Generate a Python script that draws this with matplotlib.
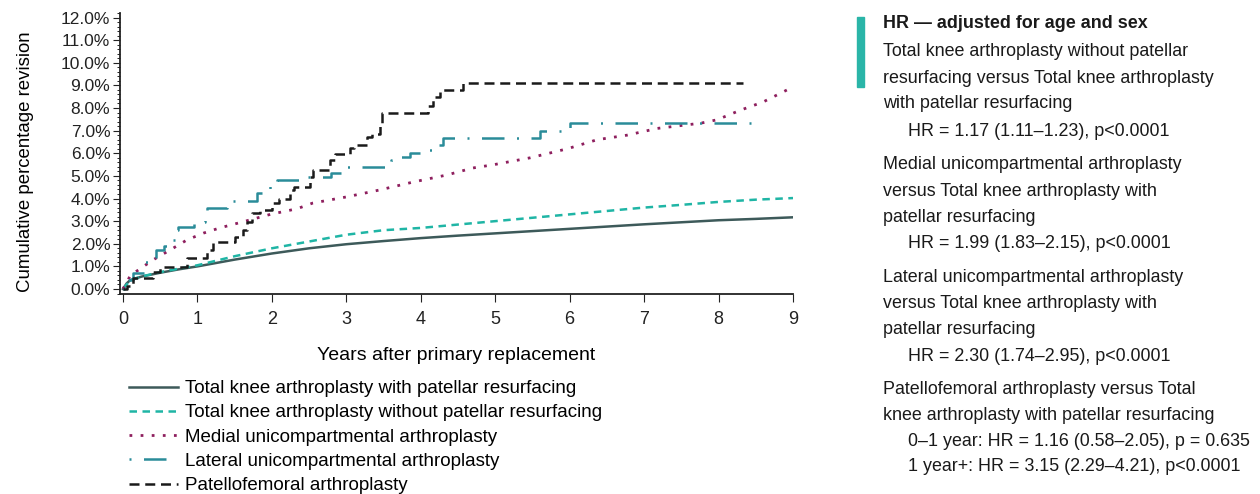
import matplotlib.pyplot as plt
from matplotlib.ticker import MultipleLocator, FuncFormatter

plt.rcParams['font.family'] = ['Liberation Sans', 'DejaVu Sans']

# 数据
tka_with_x = [0, 0.05, 0.1, 0.25, 0.5, 0.75, 1, 1.5, 2, 2.5, 3, 3.5, 4, 4.5, 5, 5.5, 6, 6.5, 7, 7.5, 8, 8.5, 9]
tka_with_y = [0, 0.25, 0.4, 0.55, 0.72, 0.87, 1.0, 1.3, 1.57, 1.8, 1.98, 2.12, 2.25, 2.36, 2.46, 2.56, 2.66, 2.76, 2.86, 2.95, 3.04, 3.1, 3.17]

tka_without_x = [0, 0.1, 0.25, 0.5, 1, 1.5, 2, 2.5, 3, 3.5, 4, 4.5, 5, 5.5, 6, 6.5, 7, 7.5, 8, 8.5, 9]
tka_without_y = [0, 0.4, 0.55, 0.75, 1.05, 1.45, 1.8, 2.1, 2.4, 2.6, 2.7, 2.85, 3.0, 3.15, 3.3, 3.45, 3.6, 3.72, 3.85, 3.95, 4.02]

medial_x = [0, 0.1, 0.4, 0.63, 0.86, 1.08, 1.3, 1.61, 1.98, 2.34, 2.55, 3.0, 3.45, 3.9, 4.35, 4.7,
            4.97, 5.47, 5.97, 6.37, 6.77, 7.18, 7.76, 7.98, 8.29, 8.6, 8.92, 9.0]
medial_y = [0, 0.6, 1.28, 1.72, 2.17, 2.47, 2.7, 2.97, 3.3, 3.55, 3.8, 4.07, 4.38, 4.73, 5.04, 5.35,
            5.49, 5.8, 6.2, 6.6, 6.8, 7.1, 7.33, 7.48, 7.9, 8.27, 8.8, 8.9]

lateral_x = [0, 0.05, 0.13, 0.3, 0.45, 0.55, 0.63, 0.7, 0.74, 0.95, 1.1, 1.13, 1.4, 1.48, 1.8, 1.98, 2.07,
             2.28, 2.45, 2.8, 3.0, 3.6, 3.68, 3.85, 4.03, 4.22, 4.3, 5.6, 6.0, 8.6]
lateral_y = [0, 0.4, 0.7, 1.2, 1.72, 1.9, 2.17, 2.6, 2.75, 2.97, 3.35, 3.58, 3.63, 3.9, 4.25, 4.6, 4.8,
             4.82, 4.96, 5.13, 5.4, 5.7, 5.85, 6.0, 6.15, 6.37, 6.68, 7.0, 7.35, 7.35]

patello_x = [0, 0.05, 0.13, 0.4, 0.5, 0.86, 1.13, 1.21, 1.5, 1.61, 1.67, 1.73, 1.84, 2.0, 2.1, 2.24, 2.3,
             2.51, 2.55, 2.78, 2.85, 3.05, 3.1, 3.28, 3.35, 3.45, 3.48, 4.1, 4.17, 4.26, 4.57, 8.33]
patello_y = [0, 0.15, 0.5, 0.75, 0.97, 1.37, 1.72, 2.08, 2.3, 2.6, 2.97, 3.35, 3.5, 3.8, 4.0, 4.38, 4.5,
             4.96, 5.26, 5.7, 5.97, 6.24, 6.37, 6.73, 6.87, 7.35, 7.8, 8.1, 8.5, 8.8, 9.1, 9.1]

labels = ['Total knee arthroplasty with patellar resurfacing',
          'Total knee arthroplasty without patellar resurfacing',
          'Medial unicompartmental arthroplasty',
          'Lateral unicompartmental arthroplasty',
          'Patellofemoral arthroplasty']

hr_lines = [
    ('HR \u2014 adjusted for age and sex', 0, 'bold'),
    ('Total knee arthroplasty without patellar', 0, 'normal'),
    ('resurfacing versus Total knee arthroplasty', 0, 'normal'),
    ('with patellar resurfacing', 0, 'normal'),
    ('HR = 1.17 (1.11\u20131.23), p<0.0001', 1, 'normal'),
    ('Medial unicompartmental arthroplasty', 0, 'normal'),
    ('versus Total knee arthroplasty with', 0, 'normal'),
    ('patellar resurfacing', 0, 'normal'),
    ('HR = 1.99 (1.83\u20132.15), p<0.0001', 1, 'normal'),
    ('Lateral unicompartmental arthroplasty', 0, 'normal'),
    ('versus Total knee arthroplasty with', 0, 'normal'),
    ('patellar resurfacing', 0, 'normal'),
    ('HR = 2.30 (1.74\u20132.95), p<0.0001', 1, 'normal'),
    ('Patellofemoral arthroplasty versus Total', 0, 'normal'),
    ('knee arthroplasty with patellar resurfacing', 0, 'normal'),
    ('0\u20131 year: HR = 1.16 (0.58\u20132.05), p = 0.635', 1, 'normal'),
    ('1 year+: HR = 3.15 (2.29\u20134.21), p<0.0001', 1, 'normal'),
]
hr_rows = [24, 51, 78, 104, 131, 164, 191, 217, 243, 277, 303, 330, 356, 389, 415, 441, 466]

fig = plt.figure(figsize=(12.6, 4.94), dpi=100)
ax = fig.add_axes([120 / 1260, 1 - 294 / 494, 673 / 1260, 281 / 494])

ax.plot(tka_with_x, tka_with_y, color='#3d5a5a', lw=1.8, label=labels[0])
ax.plot(tka_without_x, tka_without_y, color='#1fb5a5', lw=1.8, linestyle=(0, (3, 2.2)), label=labels[1])
ax.plot(medial_x, medial_y, color='#8e1f5e', lw=2, linestyle=(0, (1, 3)), label=labels[2])
ax.plot(lateral_x, lateral_y, color='#2a8c99', lw=1.8, drawstyle='steps-post',
        linestyle=(0, (0.8, 5, 9, 5)), label=labels[3])
ax.plot(patello_x, patello_y, color='#1a1a1a', lw=1.8, drawstyle='steps-post',
        linestyle=(0, (4, 2.3)), label=labels[4])

ax.set_xlim(-0.04, 9)
ax.set_ylim(-0.22, 12.2)
ax.xaxis.set_major_locator(MultipleLocator(1))
ax.yaxis.set_major_locator(MultipleLocator(1))
ax.yaxis.set_minor_locator(MultipleLocator(0.2))
ax.yaxis.set_major_formatter(FuncFormatter(lambda v, p: '%.1f%%' % v))
ax.tick_params(axis='both', labelsize=12.5, colors='#222222', direction='out')
ax.tick_params(axis='x', length=6, pad=6, labelsize=13)
ax.tick_params(axis='y', which='major', length=5, pad=2)
ax.tick_params(axis='y', which='minor', length=2.5)
for s in ['top', 'right']:
    ax.spines[s].set_visible(False)
for s in ['left', 'bottom']:
    ax.spines[s].set_color('#222222')
    ax.spines[s].set_linewidth(1.3)

ax.set_xlabel('Years after primary replacement', fontsize=14, labelpad=14)
ax.set_ylabel('Cumulative percentage revision', fontsize=13.4)
ax.yaxis.set_label_coords(-0.128, 0.47)

fig.legend(loc='upper left', bbox_to_anchor=(129 / 1260, 1 - 380 / 494), frameon=False,
           fontsize=13.5, handlelength=2.6, handletextpad=0.4, labelspacing=0.38,
           borderpad=0, borderaxespad=0)

# 右侧文字
fig.patches.append(plt.Rectangle((857 / 1260, 1 - 87 / 494), 7 / 1260, 70 / 494,
                                 transform=fig.transFigure, color='#2ab5a8'))
for (txt, indent, weight), row in zip(hr_lines, hr_rows):
    fig.text((883 + indent * 25) / 1260, 1 - row / 494, txt, fontsize=12.9,
             fontweight=weight, va='center', ha='left', color='#1a1a1a')

plt.savefig('out.png', dpi=100)
